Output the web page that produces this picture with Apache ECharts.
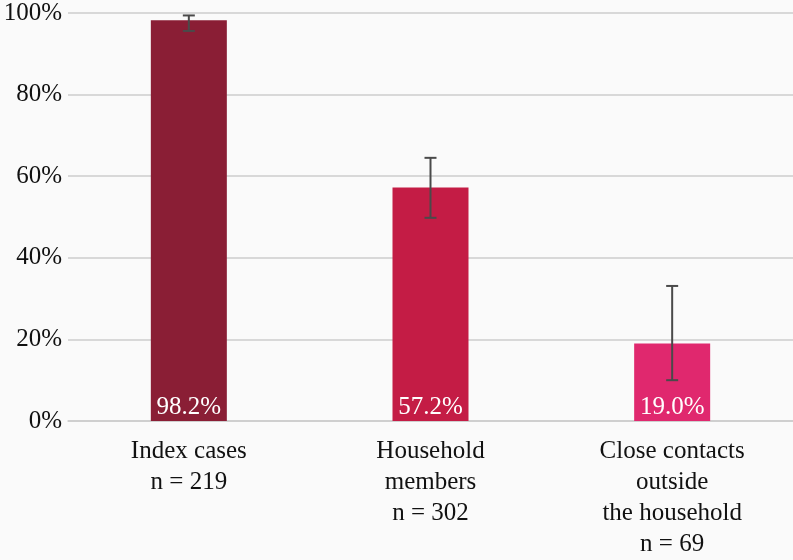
<!DOCTYPE html>
<html><head><meta charset="utf-8">
<script src="https://cdn.jsdelivr.net/npm/echarts@6/dist/echarts.min.js"></script>
<style>html,body{margin:0;padding:0;background:#fafafa}#c{width:793px;height:560px}</style>
</head><body><div id="c"></div>
<script>
var categories = ['Index cases\nn = 219', 'Household\nmembers\nn = 302', 'Close contacts\noutside\nthe household\nn = 69'];
var values = [98.2, 57.2, 19.0];
var errLow = [95.6, 49.8, 10.0];
var errHigh = [99.4, 64.5, 33.1];
var barColors = ['#8a1e35', '#c41c45', '#e0286e'];
var yTicks = [0, 20, 40, 60, 80, 100];

var font = '"Liberation Serif", "DejaVu Serif", serif';
var chart = echarts.init(document.getElementById('c'));
chart.setOption({
  backgroundColor: '#fafafa',
  animation: false,
  grid: { left: 68, right: 0, top: 13, bottom: 139, containLabel: false },
  xAxis: {
    type: 'category', data: categories,
    axisLine: { show: true, lineStyle: { color: '#cccccc', width: 1.5 } },
    axisTick: { show: false },
    axisLabel: { fontFamily: font, fontSize: 25, color: '#111', lineHeight: 31, margin: 15 }
  },
  yAxis: {
    type: 'value', min: 0, max: 100, interval: 20,
    axisLine: { show: false }, axisTick: { show: false },
    splitLine: { lineStyle: { color: '#cccccc', width: 1.5 } },
    axisLabel: { fontFamily: font, fontSize: 25, color: '#111', margin: 6, padding: [3, 0, 0, 0],
      formatter: function (v) { return yTicks.indexOf(v) >= 0 ? v + '%' : ''; } }
  },
  series: [{
    type: 'bar', barWidth: 76,
    data: values.map(function (v, i) { return { value: v, itemStyle: { color: barColors[i] } }; }),
    label: { show: true, position: 'insideBottom', distance: 1, color: '#fff', fontFamily: font, fontSize: 25,
      formatter: function (p) { return p.value.toFixed(1) + '%'; } }
  }, {
    type: 'custom',
    data: values.map(function (v, i) { return [i, errLow[i], errHigh[i]]; }),
    renderItem: function (params, api) {
      var x = api.value(0);
      var lo = api.coord([x, api.value(1)]);
      var hi = api.coord([x, api.value(2)]);
      var w = 6;
      var st = { stroke: '#4a4a4a', lineWidth: 2 };
      return { type: 'group', children: [
        { type: 'line', shape: { x1: lo[0], y1: lo[1], x2: hi[0], y2: hi[1] }, style: st },
        { type: 'line', shape: { x1: lo[0] - w, y1: lo[1], x2: lo[0] + w, y2: lo[1] }, style: st },
        { type: 'line', shape: { x1: hi[0] - w, y1: hi[1], x2: hi[0] + w, y2: hi[1] }, style: st }
      ] };
    },
    z: 5
  }]
});
</script></body></html>
